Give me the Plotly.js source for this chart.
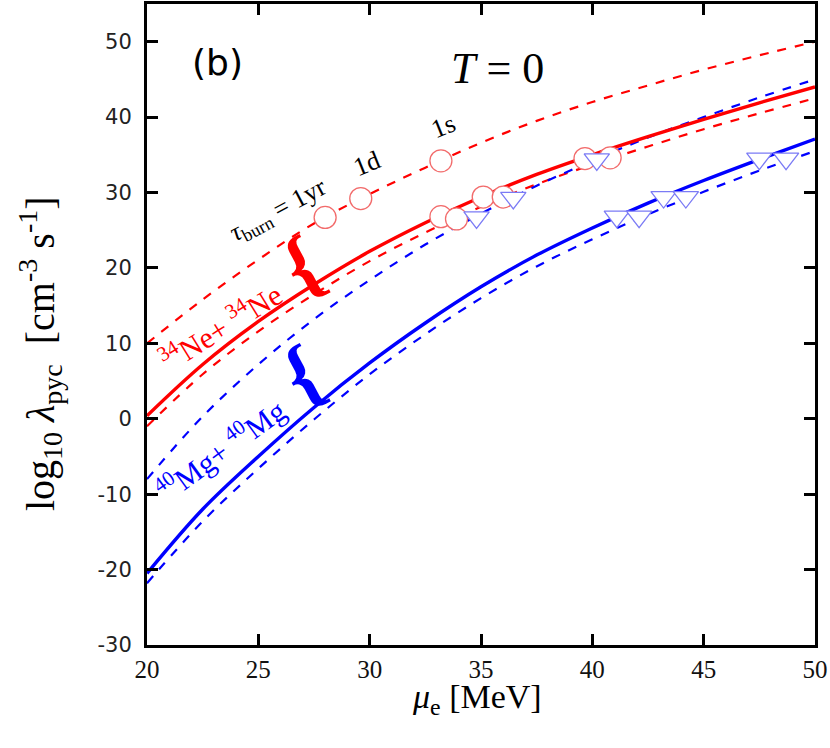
<!DOCTYPE html>
<html>
<head>
<meta charset="utf-8">
<script src="https://cdn.plot.ly/plotly-3.0.1.min.js"></script>
<style>
  html, body { margin: 0; padding: 0; background: #fff; }
  #chart { width: 830px; height: 748px; }
</style>
</head>
<body>
<div id="chart"></div>
<script>
// electron chemical potential grid [MeV]
const muE = [20, 22.5, 25, 27.5, 30, 32.5, 35, 37.5, 40, 42.5, 45, 47.5, 50];

// log10 lambda_pyc, 34Ne + 34Ne
const neUpper = [10.0, 15.8, 21.1, 25.9, 29.8, 33.3, 36.6, 39.5, 42.0, 44.2, 46.3, 48.2, 50.0];
const neMain  = [0.4, 7.2, 12.9, 17.8, 22.2, 26.0, 29.4, 32.4, 35.0, 37.4, 39.7, 41.9, 44.0];
const neLower = [-1.0, 5.9, 11.6, 16.5, 20.9, 24.7, 28.1, 31.1, 33.7, 36.1, 38.4, 40.5, 42.5];

// log10 lambda_pyc, 40Mg + 40Mg
const mgUpper = [-8.0, 0.3, 7.2, 13.2, 18.4, 23.1, 27.2, 30.9, 34.2, 37.3, 40.0, 42.6, 45.0];
const mgMain  = [-20.5, -12.0, -5.0, 1.5, 7.4, 12.7, 17.5, 21.7, 25.3, 28.6, 31.6, 34.4, 37.1];
const mgLower = [-21.8, -13.6, -6.6, -0.1, 5.9, 11.2, 16.0, 20.2, 23.8, 27.1, 30.1, 32.9, 35.5];

// burn-time markers (1yr, 1d, 1s) on each curve
const neUpperMarkX = [28.0, 29.6, 33.2];
const neUpperMarkY = [26.7, 29.2, 34.2];
const neMainMarkX  = [33.2, 35.1, 39.67];
const neMainMarkY  = [26.8, 29.4, 34.5];
const neLowerMarkX = [33.9, 36.0, 40.8];
const neLowerMarkY = [26.5, 29.4, 34.6];

const mgUpperMarkX = [34.8, 36.45, 40.2];
const mgUpperMarkY = [26.7, 29.3, 34.4];
const mgMainMarkX  = [41.1, 43.2, 47.5];
const mgMainMarkY  = [26.8, 29.4, 34.5];
const mgLowerMarkX = [42.1, 44.2, 48.7];
const mgLowerMarkY = [26.8, 29.4, 34.5];

// y tick labels (hyphen minus as in the original)
const yTickVals = [-30, -20, -10, 0, 10, 20, 30, 40, 50];
const yTickText = ['-30', '-20', '-10', '0', '10', '20', '30', '40', '50'];

const RED = '#ff0000';
const BLUE = '#0000ff';
const SERIF = 'Liberation Serif, DejaVu Serif, serif';

function curve(y, color, dashed) {
  return {
    x: muE, y: y,
    type: 'scatter', mode: 'lines',
    line: { color: color, width: dashed ? 2.2 : 3.4, dash: dashed ? 'dash' : 'solid', shape: 'spline' },
    hoverinfo: 'skip', showlegend: false,
  };
}

function marks(x, y, symbol, color, size) {
  return {
    x: x, y: y,
    type: 'scatter', mode: 'markers',
    marker: { symbol: symbol, size: size, color: '#fff', line: { color: color, width: 1.3 } },
    hoverinfo: 'skip', showlegend: false,
  };
}

const traces = [
  curve(neUpper, RED, true),
  curve(neLower, RED, true),
  curve(mgUpper, BLUE, true),
  curve(mgLower, BLUE, true),
  curve(neMain, RED, false),
  curve(mgMain, BLUE, false),
  marks(neUpperMarkX, neUpperMarkY, 'circle', '#f26b6b', 22),
  marks(neMainMarkX, neMainMarkY, 'circle', '#f26b6b', 22),
  marks(neLowerMarkX, neLowerMarkY, 'circle', '#f26b6b', 22),
  marks(mgUpperMarkX, mgUpperMarkY, 'triangle-down', '#7b7bf5', 22),
  marks(mgMainMarkX, mgMainMarkY, 'triangle-down', '#7b7bf5', 22),
  marks(mgLowerMarkX, mgLowerMarkY, 'triangle-down', '#7b7bf5', 22),
];

const annotations = [
  { x: 0.106, y: 0.908, xref: 'paper', yref: 'paper', xanchor: 'center', yanchor: 'middle',
    text: '(b)', showarrow: false,
    font: { family: 'DejaVu Sans, sans-serif', size: 36, color: '#000' } },
  { x: 0.525, y: 0.900, xref: 'paper', yref: 'paper', xanchor: 'center', yanchor: 'middle',
    text: '<i>T</i> = 0', showarrow: false,
    font: { family: SERIF, size: 44, color: '#000' } },
  { x: 25.9, y: 27.5, text: '<i>τ</i><sub>burn</sub> = 1yr', showarrow: false, textangle: -28,
    font: { family: SERIF, size: 26, color: '#000' } },
  { x: 29.9, y: 33.8, text: '1d', showarrow: false, textangle: -22,
    font: { family: SERIF, size: 26, color: '#000' } },
  { x: 33.3, y: 38.7, text: '1s', showarrow: false, textangle: -22,
    font: { family: SERIF, size: 26, color: '#000' } },
  { x: 23.3, y: 12.3, text: '<sup>34</sup>Ne+ <sup>34</sup>Ne', showarrow: false, textangle: -32,
    font: { family: SERIF, size: 30, color: RED } },
  { x: 23.3, y: -4.0, text: '<sup>40</sup>Mg+ <sup>40</sup>Mg', showarrow: false, textangle: -36,
    font: { family: SERIF, size: 30, color: BLUE } },
  { x: 26.95, y: 20.4, text: '<b>{</b>', showarrow: false, textangle: -28,
    font: { family: SERIF, size: 80, color: RED } },
  { x: 26.95, y: 6.0, text: '<b>{</b>', showarrow: false, textangle: -28,
    font: { family: SERIF, size: 80, color: BLUE } },
  // axis titles
  { x: -0.16, y: 0.454, xref: 'paper', yref: 'paper', xanchor: 'center', yanchor: 'middle',
    text: 'log<sub>10</sub> <i>λ</i><sub>pyc</sub>  [cm<sup>-3</sup> s<sup>-1</sup>]',
    showarrow: false, textangle: -90,
    font: { family: SERIF, size: 40, color: '#000' } },
  { x: 0.494, y: -0.085, xref: 'paper', yref: 'paper', xanchor: 'center', yanchor: 'middle',
    text: '<i>μ</i><sub>e</sub> [MeV]', showarrow: false,
    font: { family: SERIF, size: 34, color: '#000' } },
];

const frame = { showline: true, linewidth: 3, linecolor: '#000', showgrid: false, zeroline: false };

// plain tick-only copies of the axes (major and minor), laid over the labelled ones
function tickAxis(over, anchor, range, dtick, len) {
  return Object.assign({
    overlaying: over, anchor: anchor, range: range, dtick: dtick,
    ticks: 'inside', ticklen: len, tickwidth: 2.5, tickcolor: '#000', mirror: 'ticks',
    showticklabels: false,
  }, frame);
}

const layout = {
  width: 830, height: 748,
  margin: { t: 4, r: 15, b: 103, l: 147 },
  showlegend: false,
  xaxis: Object.assign({
    range: [20, 50],
    tickmode: 'linear', tick0: 20, dtick: 5,
    ticks: 'inside', ticklen: 11, tickwidth: 2.5, tickcolor: '#000', mirror: 'ticks',
    tickfont: { family: SERIF, size: 25, color: '#111' },
  }, frame),
  xaxis2: tickAxis('x', 'y', [20, 50], 5, 11),
  xaxis3: tickAxis('x', 'y', [20, 50], 1, 6),
  yaxis: Object.assign({
    range: [-30, 55],
    tickmode: 'array', tickvals: yTickVals, ticktext: yTickText,
    ticks: 'inside', ticklen: 11, tickwidth: 2.5, tickcolor: '#000', mirror: 'ticks',
    tickfont: { family: 'DejaVu Sans, sans-serif', size: 21, color: '#222' },
    ticklabelstandoff: 8,
  }, frame),
  yaxis2: tickAxis('y', 'x', [-30, 55], 10, 11),
  yaxis3: tickAxis('y', 'x', [-30, 55], 2.5, 6),
  annotations: annotations,
};

Plotly.newPlot('chart', traces, layout, { displayModeBar: false });
</script>
</body>
</html>
